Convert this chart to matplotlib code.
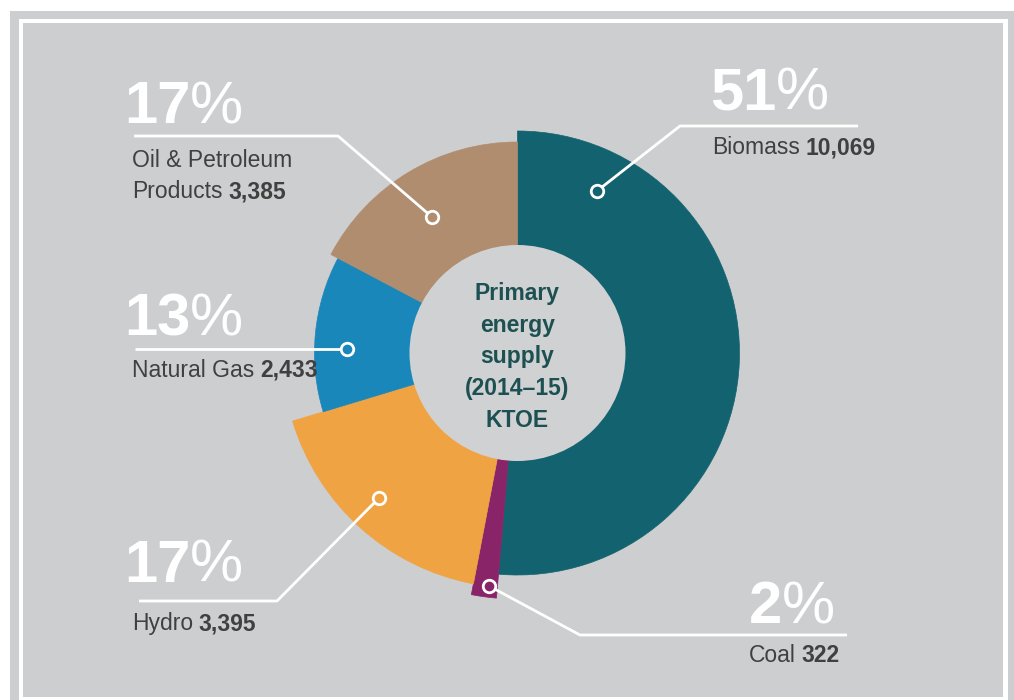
"""Primary energy supply (2014-15) donut with per-slice radius."""

import matplotlib

matplotlib.use("Agg")
import matplotlib.pyplot as plt
import numpy as np
from matplotlib.patches import Circle, Rectangle, Wedge

# %% Data
sources = ["Biomass", "Coal", "Hydro", "Natural Gas", "Oil & Petroleum\nProducts"]
ktoe = [10069, 322, 3395, 2433, 3385]
pct_labels = ["51", "2", "17", "13", "17"]
value_labels = ["10,069", "322", "3,395", "2,433", "3,385"]
centre_title = ["Primary", "energy", "supply", "(2014–15)", "KTOE"]

# %% Style
colors = ["#136270", "#8a2468", "#f0a342", "#1a87ba", "#b08d6f"]
outer_r = [222, 246, 235, 203, 211]  # px, each slice sticks out differently
inner_r = 108
cx, cy = 517.5, 353
bg = "#cdcecf"
text_gray = "#404040"
narrow = ["Liberation Sans Narrow", "Liberation Sans", "DejaVu Sans"]
pct_size = 43
lab_size = 16.5

# label layout: percent anchor, label anchor, leader path (marker first)
layout = {
    "Biomass": dict(pct=(710, 110), lab=(712, 154), path=[(597, 191), (680, 126), (858, 126)]),
    "Coal": dict(pct=(749, 623), lab=(749, 662), path=[(489, 586), (580, 635), (847, 635)]),
    "Hydro": dict(pct=(124, 582), lab=(132, 630), path=[(379, 498), (277, 601), (139, 601)]),
    "Natural Gas": dict(pct=(124, 335), lab=(132, 377), path=[(347, 349), (135, 349)]),
    "Oil & Petroleum\nProducts": dict(pct=(124, 123), lab=(132, 167), path=[(432, 217), (338, 136), (134, 136)]),
}

fig = plt.figure(figsize=(10.14, 7), dpi=100)
fig.patch.set_facecolor("white")
ax = fig.add_axes([0, 0, 1, 1])
ax.set_xlim(0, 1014)
ax.set_ylim(700, 0)
ax.axis("off")

# frame
ax.add_patch(Rectangle((10, 11), 1010, 700, color=bg, lw=0))
ax.add_patch(Rectangle((19, 19), 989, 690, color="white", lw=0))
ax.add_patch(Rectangle((23, 23), 980, 674, color=bg, lw=0))

# slices, clockwise from 12 o'clock (y axis is flipped, so + angle = clockwise)
shares = np.array(ktoe) / sum(ktoe)
start = -90.0
for share, r, col in zip(shares, outer_r, colors):
    end = start + share * 360
    ax.add_patch(Wedge((cx, cy), r, start, end, facecolor=col, edgecolor=col, lw=0.5))
    start = end

ax.add_patch(Circle((cx, cy), inner_r, color="#d0d1d2", lw=0))
for i, line in enumerate(centre_title):
    ax.text(cx, 300 + i * 31.75, line, ha="center", va="baseline", fontsize=16.5,
            fontweight="bold", family=narrow, color="#1d5052")

# labels
for name, pct, val, col in zip(sources, pct_labels, value_labels, colors):
    lay = layout[name]
    xs, ys = zip(*lay["path"])
    ax.plot(xs, ys, color="white", lw=2, solid_capstyle="butt", zorder=5)
    ax.plot(xs[0], ys[0], "o", ms=9, mfc=col, mec="white", mew=2, zorder=6)

    num = ax.text(*lay["pct"], pct, fontsize=pct_size, fontweight="bold", family=narrow,
                  color="white", va="baseline", ha="left")
    ax.annotate("%", xy=(1, 0), xycoords=num, xytext=(0, 0), textcoords="offset points",
                fontsize=pct_size, family=narrow, color="white", va="bottom", ha="left")

    lx, ly = lay["lab"]
    for i, line in enumerate(name.split("\n")):
        t = ax.text(lx, ly + i * 31, line, fontsize=lab_size, family=narrow,
                    color=text_gray, va="baseline", ha="left")
    ax.annotate(val, xy=(1, 0), xycoords=t, xytext=(4, 0), textcoords="offset points",
                fontsize=lab_size, fontweight="bold", family=narrow, color=text_gray,
                va="bottom", ha="left")

fig.savefig("out.png", dpi=100, facecolor=fig.get_facecolor())
